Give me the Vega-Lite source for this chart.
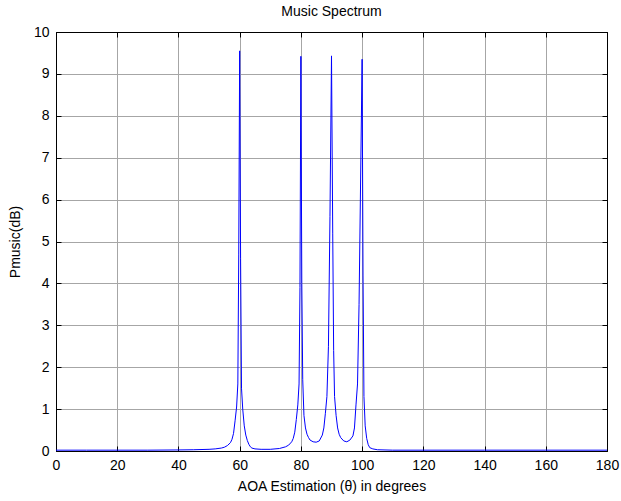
{
  "$schema": "https://vega.github.io/schema/vega-lite/v6.json",
  "width": 551,
  "height": 419,
  "autosize": "none",
  "padding": {"left": 56, "top": 32, "right": 14, "bottom": 50},
  "background": "white",
  "config": {
    "view": {"stroke": "black", "strokeWidth": 1},
    "font": "Liberation Sans",
    "axis": {"labelFont": "Liberation Sans", "titleFont": "Liberation Sans", "labelFontSize": 14, "titleFontSize": 14, "titleFontWeight": "normal", "labelColor": "black", "titleColor": "black", "domainColor": "black", "tickColor": "black"}
  },
  "title": {"text": "Music Spectrum", "fontSize": 14, "fontWeight": "normal", "font": "Liberation Sans", "offset": 6, "color": "black"},
  "data": {"values": [
    {"theta": 0, "p": 0.02}, {"theta": 10, "p": 0.02}, {"theta": 20, "p": 0.02}, {"theta": 30, "p": 0.02},
    {"theta": 40, "p": 0.025}, {"theta": 45, "p": 0.03}, {"theta": 50, "p": 0.04}, {"theta": 52, "p": 0.05},
    {"theta": 54, "p": 0.07}, {"theta": 55, "p": 0.09}, {"theta": 56, "p": 0.13}, {"theta": 57, "p": 0.2},
    {"theta": 57.5, "p": 0.28}, {"theta": 58, "p": 0.42}, {"theta": 58.5, "p": 0.72}, {"theta": 59, "p": 1.05},
    {"theta": 59.4, "p": 1.6}, {"theta": 59.7, "p": 4.7}, {"theta": 60, "p": 9.55}, {"theta": 60.3, "p": 4.6},
    {"theta": 60.6, "p": 1.5}, {"theta": 61, "p": 1.0}, {"theta": 61.5, "p": 0.6}, {"theta": 62, "p": 0.38},
    {"theta": 62.5, "p": 0.25}, {"theta": 63, "p": 0.16}, {"theta": 63.5, "p": 0.1}, {"theta": 64, "p": 0.07},
    {"theta": 65, "p": 0.05}, {"theta": 67, "p": 0.04}, {"theta": 70, "p": 0.04}, {"theta": 73, "p": 0.06},
    {"theta": 75, "p": 0.1}, {"theta": 76, "p": 0.14}, {"theta": 77, "p": 0.22}, {"theta": 77.5, "p": 0.3},
    {"theta": 78, "p": 0.45}, {"theta": 78.5, "p": 0.75}, {"theta": 79, "p": 1.1}, {"theta": 79.4, "p": 1.6},
    {"theta": 79.7, "p": 3.9}, {"theta": 80, "p": 9.42}, {"theta": 80.3, "p": 4.0}, {"theta": 80.6, "p": 1.7},
    {"theta": 81, "p": 0.85}, {"theta": 81.5, "p": 0.55}, {"theta": 82, "p": 0.4}, {"theta": 82.5, "p": 0.32},
    {"theta": 83, "p": 0.26}, {"theta": 84, "p": 0.22}, {"theta": 85, "p": 0.21}, {"theta": 86, "p": 0.24},
    {"theta": 87, "p": 0.38}, {"theta": 87.5, "p": 0.55}, {"theta": 88, "p": 0.9}, {"theta": 88.5, "p": 1.3},
    {"theta": 89, "p": 2.5}, {"theta": 89.5, "p": 5.6}, {"theta": 90, "p": 9.43}, {"theta": 90.4, "p": 5.2},
    {"theta": 90.7, "p": 2.4}, {"theta": 91, "p": 1.3}, {"theta": 91.5, "p": 0.85}, {"theta": 92, "p": 0.55},
    {"theta": 92.5, "p": 0.4}, {"theta": 93, "p": 0.32}, {"theta": 94, "p": 0.24}, {"theta": 95, "p": 0.22},
    {"theta": 96, "p": 0.26}, {"theta": 97, "p": 0.36}, {"theta": 97.5, "p": 0.55}, {"theta": 98, "p": 1.1},
    {"theta": 98.5, "p": 1.6}, {"theta": 99, "p": 3.5}, {"theta": 100, "p": 9.35}, {"theta": 100.3, "p": 4.2},
    {"theta": 100.6, "p": 1.3}, {"theta": 101, "p": 0.6}, {"theta": 101.5, "p": 0.3}, {"theta": 102, "p": 0.15},
    {"theta": 102.5, "p": 0.08}, {"theta": 103.5, "p": 0.05}, {"theta": 105, "p": 0.03}, {"theta": 110, "p": 0.02},
    {"theta": 120, "p": 0.02}, {"theta": 140, "p": 0.02}, {"theta": 160, "p": 0.02}, {"theta": 180, "p": 0.02}
  ]},
  "layer": [
    {
      "mark": {"type": "line", "color": "#0000ff", "strokeWidth": 1, "clip": true},
      "encoding": {
        "x": {"field": "theta", "type": "quantitative", "scale": {"domain": [0, 180], "nice": false, "zero": false},
          "axis": {"orient": "bottom", "title": "AOA Estimation (θ) in degrees", "values": [0,20,40,60,80,100,120,140,160,180], "tickSize": -5, "labelPadding": 12, "titlePadding": 7, "grid": true, "gridColor": "#a6a6a6", "gridWidth": 1, "labelFlush": false}},
        "y": {"field": "p", "type": "quantitative", "scale": {"domain": [0, 10], "nice": false},
          "axis": {"orient": "left", "title": "Pmusic(dB)", "values": [0,1,2,3,4,5,6,7,8,9,10], "tickSize": -5, "labelPadding": 12, "titlePadding": 11, "grid": true, "gridColor": "#a6a6a6", "gridWidth": 1}}
      }
    },
    {
      "mark": {"type": "line", "opacity": 0},
      "encoding": {
        "x": {"field": "theta", "type": "quantitative", "axis": {"orient": "top", "title": null, "labels": false, "values": [0,20,40,60,80,100,120,140,160,180], "tickSize": -5, "grid": false}},
        "y": {"field": "p", "type": "quantitative", "axis": {"orient": "right", "title": null, "labels": false, "values": [0,1,2,3,4,5,6,7,8,9,10], "tickSize": -5, "grid": false}}
      }
    }
  ],
  "resolve": {"axis": {"x": "independent", "y": "independent"}}
}
